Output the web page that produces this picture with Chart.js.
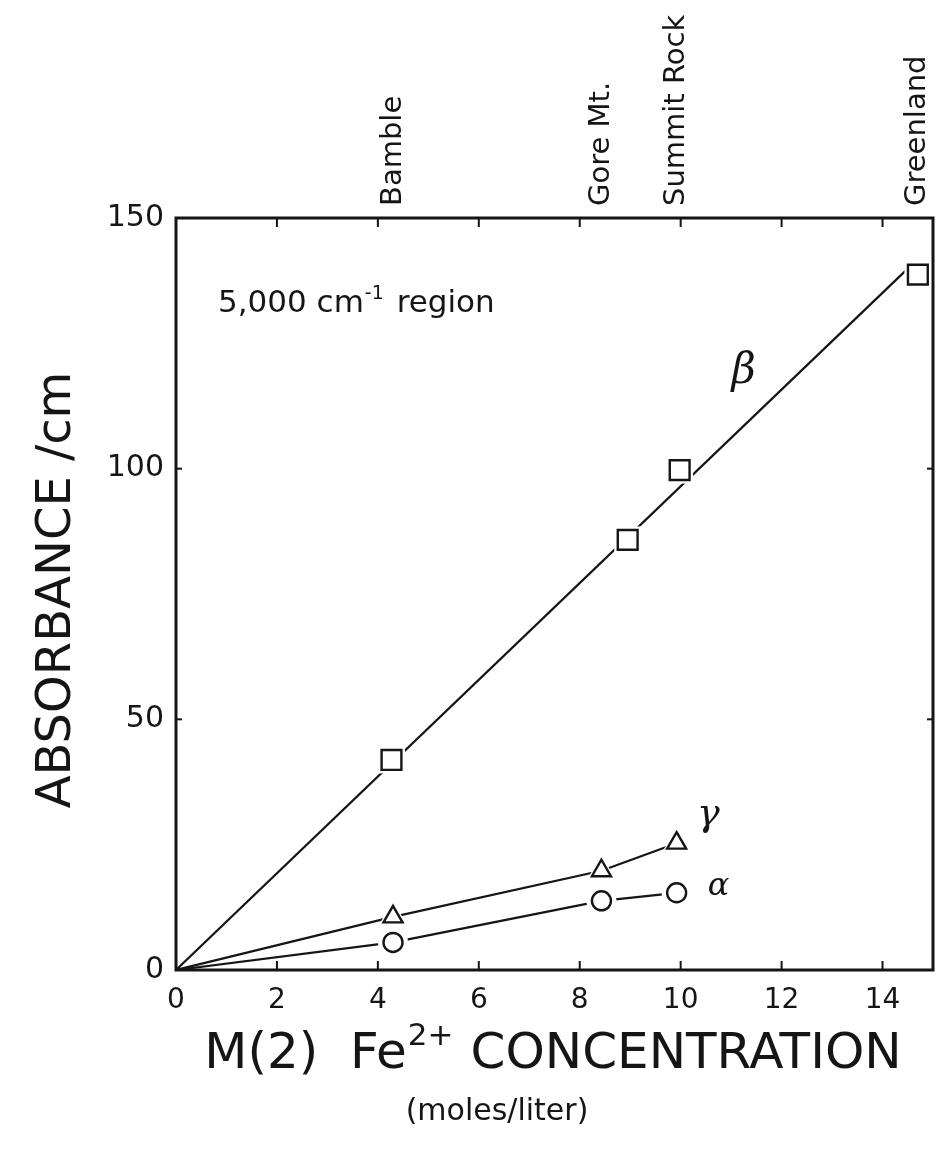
<!DOCTYPE html>
<html>
<head>
<meta charset="utf-8">
<script src="https://cdn.jsdelivr.net/npm/chart.js@4.4.1/dist/chart.umd.min.js"></script>
<style>
  html, body { margin: 0; padding: 0; background: #ffffff; overflow: hidden; }
  #chart { display: block; }
</style>
</head>
<body>
<canvas id="chart" width="937" height="1158"></canvas>
<script>
// Sample localities and their M(2) Fe2+ concentrations (moles/liter)
const sampleNames = ['Bamble', 'Gore Mt.', 'Summit Rock', 'Greenland'];
const sampleFe = [4.3, 8.43, 9.92, 14.7];

// beta band: measured points and the straight line through the origin
const betaFe = [4.27, 8.95, 9.98, 14.7];
const betaAbs = [41.9, 85.8, 99.7, 138.7];
const betaLineFe = [0, 14.5];
const betaLineAbs = [0, 139.9];

// gamma band
const gammaFe = [4.3, 8.43, 9.92];
const gammaAbs = [10.6, 19.8, 25.3];

// alpha band
const alphaFe = [4.3, 8.43, 9.92];
const alphaAbs = [5.5, 13.8, 15.4];

// axis ticks
const xTicks = [0, 2, 4, 6, 8, 10, 12, 14];
const yTicks = [0, 50, 100, 150];

const ink = '#151515';
const FONT = '"DejaVu Sans", "Liberation Sans", sans-serif';

const pts = (xs, ys) => xs.map((v, i) => ({ x: v, y: ys[i] }));
const withOrigin = (xs, ys) => [{ x: 0, y: 0 }].concat(pts(xs, ys));

// white halo behind each marker so the lines stop short of it
function halo(data, style, radius) {
  return {
    data, showLine: false, pointStyle: style, pointRadius: radius,
    pointBackgroundColor: '#fff', pointBorderColor: '#fff', pointBorderWidth: 0,
    pointHoverRadius: radius, order: 1
  };
}
function markers(data, style, radius) {
  return {
    data, showLine: false, pointStyle: style, pointRadius: radius,
    pointBackgroundColor: '#fff', pointBorderColor: ink, pointBorderWidth: 2.4,
    pointHoverRadius: radius, order: 0
  };
}
function line(data) {
  return {
    data, showLine: true, borderColor: ink, borderWidth: 2.2,
    pointRadius: 0, pointHoverRadius: 0, order: 2, tension: 0
  };
}

const decor = {
  id: 'decor',
  afterDraw(chart) {
    const { ctx, chartArea: a, scales: { x, y } } = chart;
    const seg = (x1, y1, x2, y2) => { ctx.beginPath(); ctx.moveTo(x1, y1); ctx.lineTo(x2, y2); ctx.stroke(); };
    ctx.save();
    ctx.strokeStyle = ink;
    ctx.fillStyle = ink;

    // frame
    ctx.lineWidth = 3;
    ctx.strokeRect(a.left, a.top, a.right - a.left, a.bottom - a.top);

    // inward ticks
    ctx.lineWidth = 2;
    xTicks.forEach(v => {
      if (v === 0) return;
      const px = x.getPixelForValue(v);
      seg(px, a.bottom, px, a.bottom - 9);
      seg(px, a.top, px, a.top + 9);
    });
    yTicks.forEach(v => {
      if (v === 0 || v === 150) return;
      const py = y.getPixelForValue(v);
      seg(a.left, py, a.left + 6, py);
      seg(a.right, py, a.right - 6, py);
    });

    // sample names along the top
    ctx.font = '29px ' + FONT;
    ctx.textAlign = 'left';
    ctx.textBaseline = 'middle';
    sampleNames.forEach((n, i) => {
      const px = x.getPixelForValue(sampleFe[i]);
      ctx.save();
      ctx.translate(px, a.top - 12);
      ctx.rotate(-Math.PI / 2);
      ctx.fillText(n, 0, 0);
      ctx.restore();
    });

    // region note
    ctx.textBaseline = 'alphabetic';
    let cx = a.left + 42, base = a.top + 94;
    ctx.font = '31px ' + FONT;
    ctx.fillText('5,000 cm', cx, base);
    cx += ctx.measureText('5,000 cm').width + 1;
    ctx.font = '19px ' + FONT;
    ctx.fillText('-1', cx, base - 13);
    cx += ctx.measureText('-1').width + 3;
    ctx.font = '31px ' + FONT;
    ctx.fillText(' region', cx, base);

    // band labels
    ctx.font = 'italic 42px "DejaVu Serif", serif';
    ctx.textAlign = 'center';
    ctx.fillText('β', x.getPixelForValue(11.25), y.getPixelForValue(117));
    ctx.font = 'italic 38px "DejaVu Serif", serif';
    ctx.fillText('γ', x.getPixelForValue(10.55), y.getPixelForValue(29));
    ctx.font = 'italic 32px "DejaVu Serif", serif';
    ctx.fillText('α', x.getPixelForValue(10.75), y.getPixelForValue(15));

    // x title with superscript
    const big = '50px ' + FONT, sup = '31px ' + FONT;
    const p1 = 'M(2)  Fe', p2 = '2+', p3 = ' CONCENTRATION';
    ctx.font = big; const w1 = ctx.measureText(p1).width, w3 = ctx.measureText(p3).width;
    ctx.font = sup; const w2 = ctx.measureText(p2).width;
    const total = w1 + w2 + w3;
    let tx = 552 - total / 2;
    const tb = 1068;
    ctx.textAlign = 'left';
    ctx.font = big; ctx.fillText(p1, tx, tb); tx += w1;
    ctx.font = sup; ctx.fillText(p2, tx + 1, tb - 23); tx += w2 + 2;
    ctx.font = big; ctx.fillText(p3, tx, tb);

    ctx.font = '30px ' + FONT;
    ctx.textAlign = 'center';
    ctx.fillText('(moles/liter)', 497, 1120);

    // y title
    ctx.save();
    ctx.translate(70, 590);
    ctx.rotate(-Math.PI / 2);
    ctx.font = '48px ' + FONT;
    ctx.textAlign = 'center';
    ctx.textBaseline = 'alphabetic';
    ctx.fillText('ABSORBANCE /cm', 0, 0);
    ctx.restore();

    ctx.restore();
  }
};

new Chart(document.getElementById('chart'), {
  type: 'scatter',
  data: {
    datasets: [
      line([{ x: betaLineFe[0], y: betaLineAbs[0] }, { x: betaLineFe[1], y: betaLineAbs[1] }]),
      line(withOrigin(gammaFe, gammaAbs)),
      line(withOrigin(alphaFe, alphaAbs)),
      halo(pts(betaFe, betaAbs), 'rect', 19),
      halo(pts(gammaFe, gammaAbs), 'triangle', 16),
      halo(pts(alphaFe, alphaAbs), 'circle', 15),
      markers(pts(betaFe, betaAbs), 'rect', 14),
      markers(pts(gammaFe, gammaAbs), 'triangle', 11),
      markers(pts(alphaFe, alphaAbs), 'circle', 9.5)
    ]
  },
  options: {
    responsive: false,
    animation: false,
    devicePixelRatio: 1,
    layout: { autoPadding: false, padding: { top: 218, right: 4, left: 0, bottom: 0 } },
    plugins: { legend: { display: false }, tooltip: { enabled: false } },
    scales: {
      x: {
        type: 'linear', min: 0, max: 15,
        afterBuildTicks: s => { s.ticks = xTicks.map(v => ({ value: v })); },
        afterFit: s => { s.height = 188; s.paddingLeft = 0; s.paddingRight = 0; },
        grid: { display: false, drawTicks: false },
        border: { display: false },
        ticks: { color: ink, font: { family: FONT, size: 28 }, padding: 14, maxRotation: 0 }
      },
      y: {
        type: 'linear', min: 0, max: 150,
        afterBuildTicks: s => { s.ticks = yTicks.map(v => ({ value: v })); },
        afterFit: s => { s.width = 176; s.paddingTop = 0; s.paddingBottom = 0; },
        grid: { display: false, drawTicks: false },
        border: { display: false },
        ticks: { color: ink, font: { family: FONT, size: 30 }, padding: 12 }
      }
    }
  },
  plugins: [decor]
});
</script>
</body>
</html>
